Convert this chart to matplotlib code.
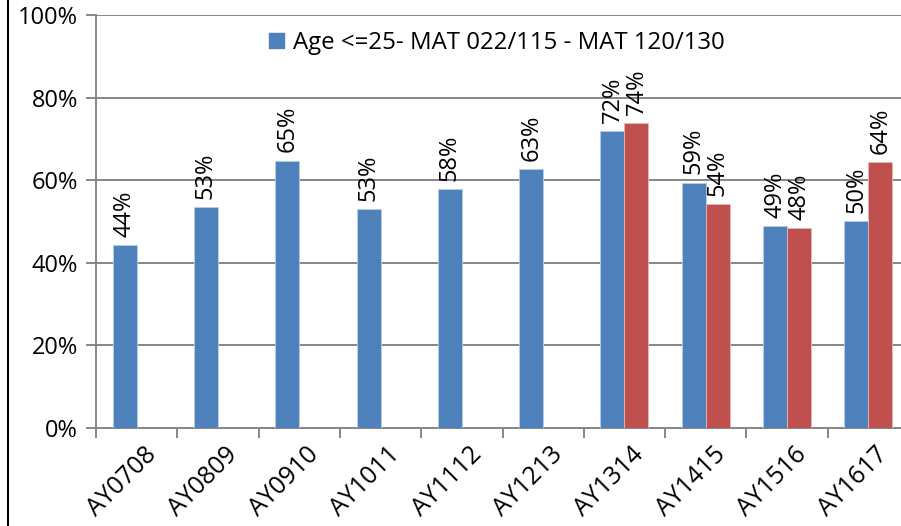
import matplotlib
matplotlib.use("Agg")
import matplotlib.pyplot as plt
import numpy as np
from matplotlib.lines import Line2D
from matplotlib.patches import Patch
import matplotlib.transforms as mtrans

categories = ["AY0708", "AY0809", "AY0910", "AY1011", "AY1112", "AY1213",
              "AY1314", "AY1415", "AY1516", "AY1617"]
blue_values = [44.3, 53.4, 64.7, 53.0, 57.8, 62.6, 71.8, 59.4, 48.8, 50.1]
red_values = [None, None, None, None, None, None, 73.8, 54.2, 48.4, 64.4]
legend_label = "Age <=25- MAT 022/115 - MAT 120/130"
yticks = [0, 20, 40, 60, 80, 100]

plt.rcParams['font.family'] = ['Open Sans', 'DejaVu Sans']
fig = plt.figure(figsize=(9.01, 5.26), dpi=100)
ax = fig.add_axes([96/901, 1-428/526, (909-96)/901, (428-15)/526])

blue = "#4F81BD"
red = "#C0504D"
grid = "#868686"
fs = 17
x = np.arange(len(categories))
w = 0.295
for i, v in enumerate(blue_values):
    if v is None:
        continue
    ax.bar(x[i]-w/2, v, width=w, color=blue, edgecolor="#B9CDE5", linewidth=0.6, zorder=3)
    ax.annotate(f"{v:.0f}%", (x[i]-w/2, v), xytext=(0, 6), textcoords="offset points",
                rotation=90, ha="center", va="bottom", fontsize=fs, zorder=4)
for i, v in enumerate(red_values):
    if v is None:
        continue
    ax.bar(x[i]+w/2, v, width=w, color=red, edgecolor="#E6B9B8", linewidth=0.6, zorder=3)
    ax.annotate(f"{v:.0f}%", (x[i]+w/2, v), xytext=(0, 6), textcoords="offset points",
                rotation=90, ha="center", va="bottom", fontsize=fs, zorder=4)

ax.set_xlim(-0.5, len(categories)-0.5)
ax.set_ylim(0, 100)
ax.set_yticks(yticks)
ax.set_yticklabels([f"{t}%" for t in yticks], fontsize=fs)
ax.yaxis.grid(True, color=grid, linewidth=1.4, zorder=0)
ax.set_axisbelow(True)
ax.set_xticks(np.arange(len(categories)+1)-0.5)
ax.set_xticklabels([])
ax.set_xticks(x, minor=True)
ax.set_xticklabels(categories, minor=True, rotation=45, ha="right", va="top",
                   rotation_mode="anchor", fontsize=18)
ax.tick_params(axis="x", which="minor", length=0, pad=10)
ax.tick_params(axis="x", which="major", length=7, color=grid, width=1.4)
ax.tick_params(axis="y", length=7, color=grid, width=1.4, pad=6)
for s in ["top", "right"]:
    ax.spines[s].set_visible(False)
for s in ["left", "bottom"]:
    ax.spines[s].set_color(grid)
    ax.spines[s].set_linewidth(1.4)

offset = mtrans.ScaledTranslation(7/100, 0, fig.dpi_scale_trans)
for lbl in ax.get_xticklabels(minor=True):
    lbl.set_transform(lbl.get_transform() + offset)

leg = ax.legend(handles=[Patch(color=blue, label=legend_label)], loc="center",
                bbox_to_anchor=(497/901, 1-43/526), bbox_transform=fig.transFigure,
                frameon=False, fontsize=17.3, handlelength=0.6, handleheight=0.6,
                handletextpad=0.4)

fig.add_artist(Line2D([7.5/901, 7.5/901], [0, 1], color="black", linewidth=1.5,
                      transform=fig.transFigure))
fig.savefig("out.png", dpi=100)
